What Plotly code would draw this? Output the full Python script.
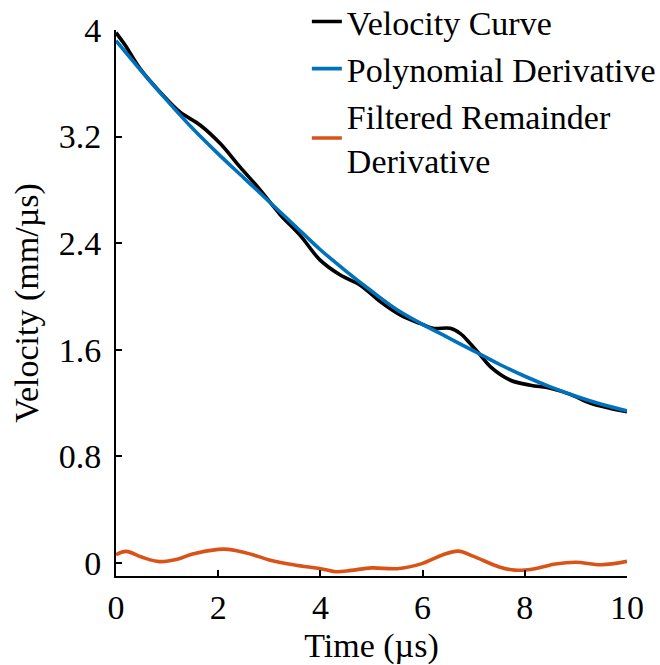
import plotly.graph_objects as go

# Time samples (µs) for the measured velocity curve
t_vel = [0.0, 0.18, 0.47, 0.86, 1.25, 1.65, 2.04, 2.43, 2.82, 3.21, 3.6, 4.0,
         4.39, 4.78, 5.17, 5.56, 5.95, 6.2, 6.54, 6.74, 6.93, 7.13, 7.33,
         7.72, 8.11, 8.5, 8.89, 9.29, 9.68, 10.0]
velocity = [3.98, 3.885, 3.71, 3.535, 3.385, 3.285, 3.147, 2.97, 2.80, 2.615,
            2.46, 2.27, 2.16, 2.084, 1.96, 1.86, 1.797, 1.76, 1.76, 1.72,
            1.646, 1.559, 1.47, 1.37, 1.333, 1.31, 1.264, 1.196, 1.158, 1.133]

# Smooth polynomial-derivative fit
t_poly = [0.0, 0.5, 1.0, 1.5, 2.0, 2.5, 3.0, 3.5, 4.0, 4.5, 5.0, 5.5, 6.0,
          6.5, 7.0, 7.5, 8.0, 8.5, 9.0, 9.5, 10.0]
poly_deriv = [3.92, 3.69, 3.47, 3.26, 3.07, 2.89, 2.71, 2.53, 2.35, 2.19,
              2.04, 1.90, 1.79, 1.69, 1.59, 1.49, 1.40, 1.32, 1.25, 1.19, 1.14]

# Filtered remainder derivative
t_rem = [0.0, 0.2, 0.5, 0.85, 1.2, 1.5, 2.0, 2.2, 2.6, 3.0, 3.5, 4.0, 4.3,
         4.6, 5.0, 5.5, 6.0, 6.4, 6.7, 7.0, 7.5, 7.8, 8.2, 8.6, 9.0, 9.5, 10.0]
remainder = [0.06, 0.085, 0.042, 0.008, 0.026, 0.066, 0.10, 0.10, 0.068,
             0.021, -0.018, -0.045, -0.068, -0.058, -0.039, -0.045, -0.005,
             0.06, 0.087, 0.047, -0.032, -0.056, -0.045, -0.01, 0.003,
             -0.015, 0.01]

x_ticks = [0, 2, 4, 6, 8, 10]
y_ticks = [0, 0.8, 1.6, 2.4, 3.2, 4]
y_tick_text = ["0", "0.8", "1.6", "2.4", "3.2", "4"]

FONT = "Liberation Serif, Times New Roman, serif"
LW = 3.6

fig = go.Figure()
fig.add_trace(go.Scatter(x=t_vel, y=velocity, mode="lines",
                         line=dict(color="#000000", width=LW, shape="spline"),
                         name="Velocity Curve"))
fig.add_trace(go.Scatter(x=t_poly, y=poly_deriv, mode="lines",
                         line=dict(color="#0072BD", width=LW, shape="spline"),
                         name="Polynomial Derivative"))
fig.add_trace(go.Scatter(x=t_rem, y=remainder, mode="lines",
                         line=dict(color="#D95319", width=LW, shape="spline"),
                         name="Filtered Remainder<br>Derivative"))

axis_common = dict(
    showgrid=False, zeroline=False, showline=True, linecolor="black",
    linewidth=2, ticks="inside", ticklen=6, tickwidth=2, tickcolor="black",
    tickfont=dict(family=FONT, size=34, color="black"),
)

fig.update_layout(
    width=660, height=665,
    margin=dict(l=116, r=33, t=30, b=89, autoexpand=False),
    paper_bgcolor="white", plot_bgcolor="white",
    font=dict(family=FONT, size=34, color="black"),
    xaxis=dict(range=[0, 10], tickvals=x_ticks, ticklabelstandoff=0,
               title=dict(text="Time (µs)", standoff=16,
                          font=dict(family=FONT, size=34)),
               **axis_common),
    yaxis=dict(range=[-0.1, 4], tickvals=y_ticks, ticktext=y_tick_text,
               ticklabelstandoff=6,
               title=dict(text="Velocity (mm/µs)", standoff=10,
                          font=dict(family=FONT, size=34)),
               **axis_common),
    legend=dict(x=0.3735, y=1.068, xanchor="left", yanchor="top",
                bgcolor="rgba(0,0,0,0)", borderwidth=0,
                font=dict(family=FONT, size=34, color="black"),
                tracegroupgap=0),
    showlegend=True,
)

fig.write_html("out.html")
